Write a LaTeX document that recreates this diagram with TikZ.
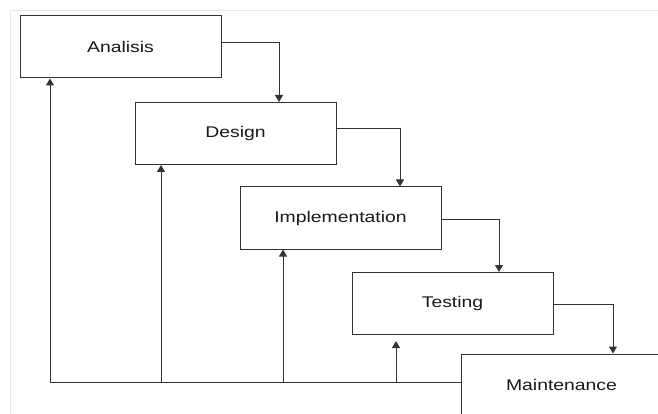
\documentclass[tikz,border=0pt]{standalone}
\usepackage{fontspec}
\newfontfamily\boxfont[FakeStretch=1.25]{Liberation Sans}
\usepackage{tikz}
\usetikzlibrary{arrows.meta,positioning,calc}
\definecolor{edge}{HTML}{333333}
\definecolor{frame}{HTML}{E6E6E6}

\begin{document}
\begin{tikzpicture}[
  x=1pt, y=-1pt,
  phase/.style={draw=edge, line width=1pt, minimum width=201pt, minimum height=62pt,
    inner sep=0pt, font=\boxfont\fontsize{15.5}{18}\selectfont, text=black!90},
  arrow/.style={-{Triangle[width=8pt,length=7pt]}, draw=edge, line width=1pt},
  feed/.style={draw=edge, line width=1pt},
]
  \clip (0,0) rectangle (658,414);
  \fill[white] (0,0) rectangle (658,414);
  % faint frame
  \draw[frame, line width=1pt] (658,11) -- (10,11) -- (10,414);

  \node[phase] (ana) at (120.5,47) {Analisis};
  \node[phase] (des) at (235.5,133.5) {Design};
  \node[phase] (imp) at (340.5,218) {Implementation};
  \node[phase] (tes) at (452.5,303.5) {Testing};
  \node[phase] (mai) at (561.5,385) {Maintenance};

  % cascade
  \draw[arrow] ([yshift=4.5pt]ana.east) -| ([xshift=43.5pt]des.north);
  \draw[arrow] ([yshift=5pt]des.east) -| ([xshift=59.5pt]imp.north);
  \draw[arrow] ([yshift=-1pt]imp.east) -| ([xshift=46.5pt]tes.north);
  \draw[arrow] ([yshift=-0.5pt]tes.east) -| ([xshift=51.5pt]mai.north);

  % feedback
  \coordinate (fb1) at (50,382);
  \coordinate (fb2) at (161,382);
  \coordinate (fb3) at (283,382);
  \coordinate (fb4) at (396,382);
  \draw[feed] ([yshift=3pt]mai.west) -- (fb1);
  \draw[arrow] (fb1) -- (fb1 |- ana.south);
  \draw[arrow] (fb2) -- (fb2 |- des.south);
  \draw[arrow] (fb3) -- (fb3 |- imp.south);
  \draw[arrow] (fb4) -- ([yshift=-6pt]fb4 |- tes.south);
\end{tikzpicture}
\end{document}
